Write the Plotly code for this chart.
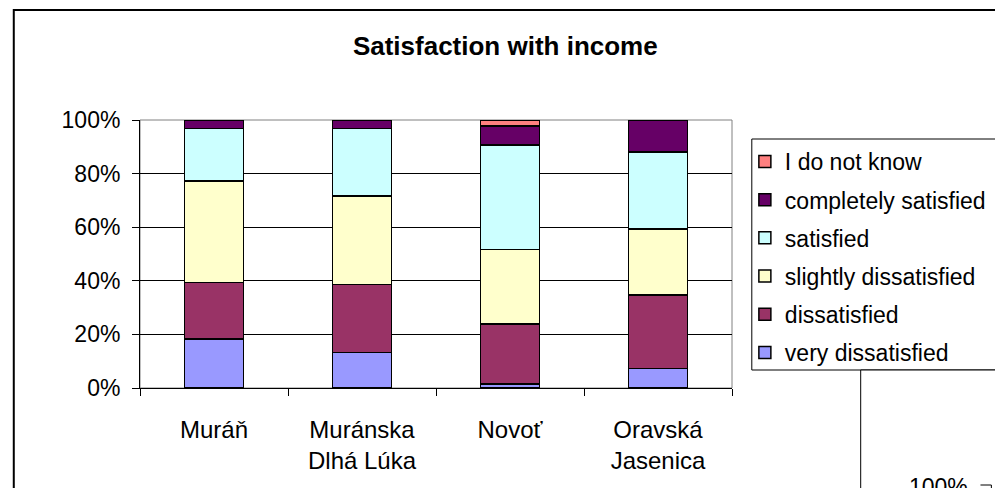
import plotly.graph_objects as go

categories = ["Muráň", "Muránska<br>Dlhá Lúka", "Novoť", "Oravská<br>Jasenica"]
series_names = ["very dissatisfied", "dissatisfied", "slightly dissatisfied",
                "satisfied", "completely satisfied", "I do not know"]
very_dissatisfied = [18.2, 13.3, 1.5, 7.3]
dissatisfied = [21.2, 25.4, 22.3, 27.4]
slightly_dissatisfied = [37.8, 32.9, 27.9, 24.6]
satisfied = [19.7, 25.3, 39.0, 28.8]
completely_satisfied = [3.1, 3.1, 7.1, 11.9]
do_not_know = [None, None, 2.2, None]
colors = ["#9999FF", "#993366", "#FFFFCC", "#CCFFFF", "#660066", "#FF8080"]
y_ticks = [0, 20, 40, 60, 80, 100]
y_tick_labels = ["0%", "20%", "40%", "60%", "80%", "100%"]

FONT = "Liberation Sans, Arial, sans-serif"
OFF = 8                      # page body margin of the browser
W, H = 1003 - OFF, 488 - OFF  # figure size
# plot area in window pixels: x 140..738, y 120..388
L, R, T, B = 140 - OFF, W - (738 - OFF), 120 - OFF, H - (388 - OFF)
PW, PH = W - L - R, H - T - B


def px(xw):
    return (xw - 140) / PW


def py(yw):
    return (388 - yw) / PH


fig = go.Figure()
values = [very_dissatisfied, dissatisfied, slightly_dissatisfied,
          satisfied, completely_satisfied, do_not_know]
for i, (name, vals) in enumerate(zip(series_names, values)):
    fig.add_trace(go.Bar(
        x=categories, y=vals, name=name, legendgroup=name,
        legendrank=100 - i,
        marker=dict(color=colors[i], line=dict(color="black", width=1.5)),
    ))

shapes = [
    dict(type="rect", xref="paper", yref="paper", x0=0, x1=1, y0=0, y1=1,
         line=dict(color="#808080", width=1), layer="between"),
    dict(type="rect", xref="paper", yref="paper", x0=px(12.5), x1=px(1015),
         y0=py(500), y1=py(10), line=dict(color="black", width=2)),
    dict(type="rect", xref="paper", yref="paper", x0=px(758), x1=px(1015),
         y0=py(370), y1=py(139), line=dict(color="black", width=1)),
    dict(type="rect", xref="paper", yref="paper", x0=px(868), x1=px(1015),
         y0=py(500), y1=py(370), line=dict(color="black", width=1),
         fillcolor="white"),
    dict(type="line", xref="paper", yref="paper", x0=px(989), x1=px(1000),
         y0=py(485), y1=py(485), line=dict(color="black", width=1)),
    dict(type="line", xref="paper", yref="paper", x0=px(1000), x1=px(1000),
         y0=py(485), y1=py(495), line=dict(color="black", width=1)),
]

fig.update_layout(
    width=W, height=H,
    margin=dict(l=L, r=R, t=T, b=B),
    barmode="stack", bargap=0.6,
    paper_bgcolor="white", plot_bgcolor="white",
    font=dict(family=FONT, size=23, color="black"),
    title=dict(text="<b>Satisfaction with income</b>", font=dict(size=26, family=FONT),
               xref="paper", x=px(509), xanchor="center",
               yref="container", y=1 - (46 - OFF) / H, yanchor="middle"),
    showlegend=True,
    legend=dict(x=px(751), xanchor="left", y=py(140), yanchor="top",
                xref="paper", yref="paper",
                bgcolor="rgba(0,0,0,0)", borderwidth=0,
                traceorder="grouped", tracegroupgap=5.3,
                font=dict(size=23, family=FONT)),
    xaxis=dict(showline=True, linecolor="black", linewidth=1,
               ticks="outside", ticklen=7, tickcolor="black",
               tickson="boundaries", showgrid=False, ticklabelstandoff=20,
               tickfont=dict(size=24, family=FONT)),
    yaxis=dict(range=[0, 100], tickvals=y_ticks, ticktext=y_tick_labels,
               showline=True, linecolor="black", linewidth=1,
               ticks="outside", ticklen=7, tickcolor="black",
               showgrid=True, gridcolor="black", gridwidth=1,
               zeroline=False, ticklabelstandoff=7,
               tickfont=dict(size=23, family=FONT)),
    shapes=shapes,
    annotations=[dict(text="100%", xref="paper", yref="paper", x=px(978),
                      y=py(487), xanchor="right", yanchor="middle",
                      showarrow=False, font=dict(size=23, family=FONT))],
)

fig.write_html("out.html")
